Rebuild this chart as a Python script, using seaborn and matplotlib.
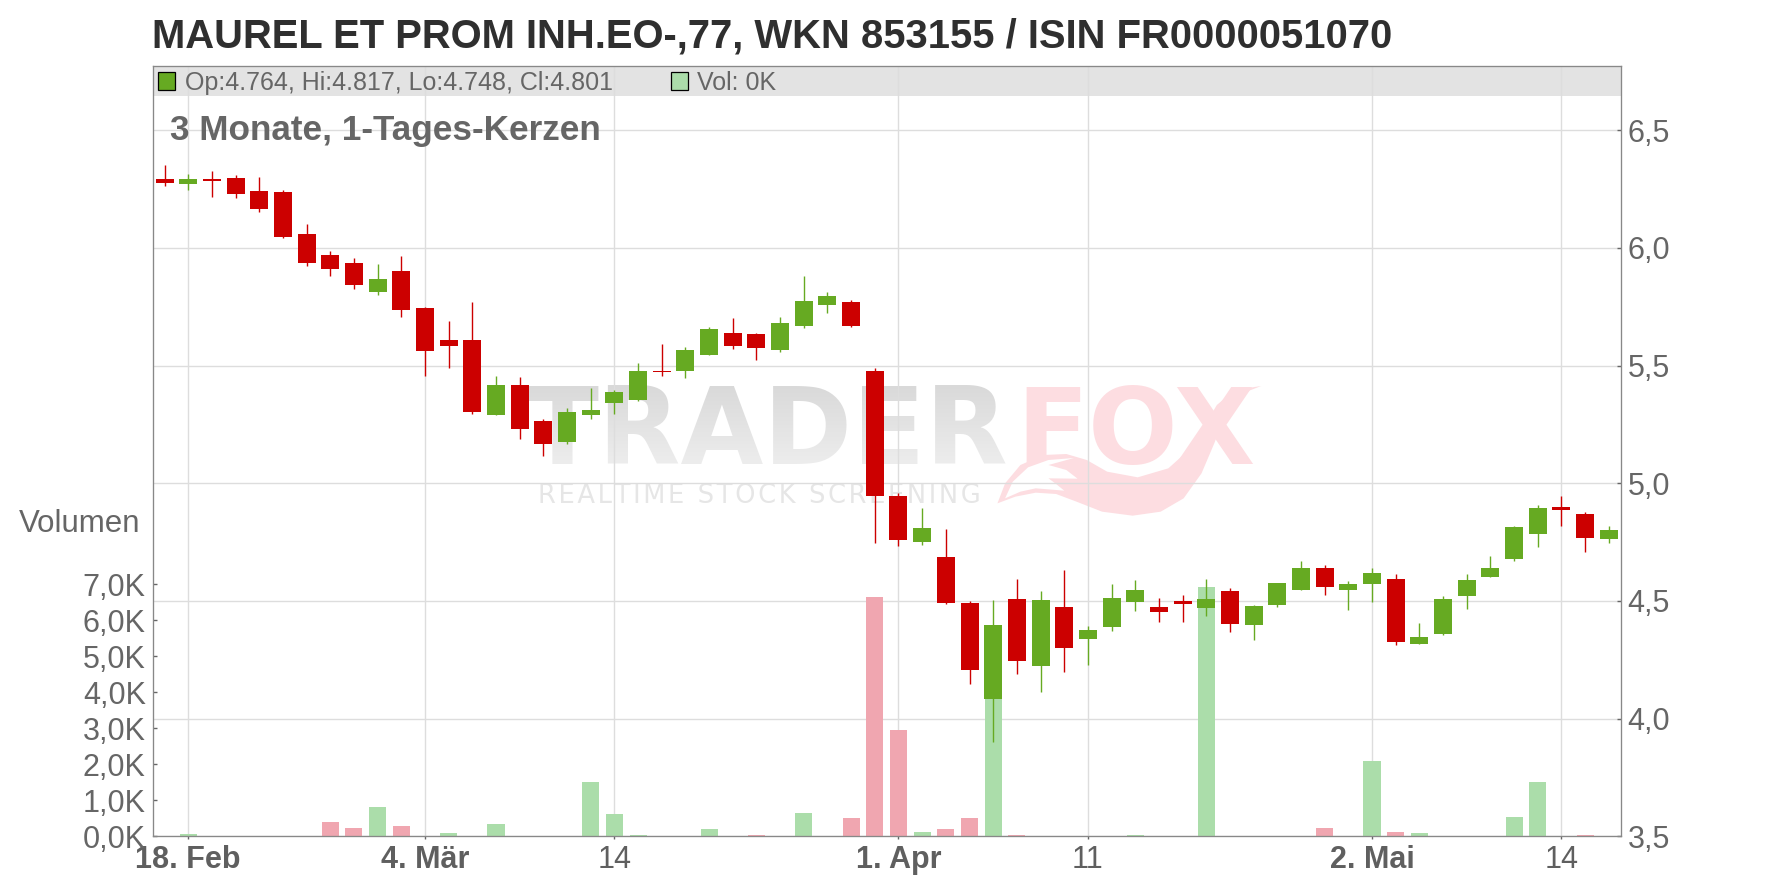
import numpy as np
import pandas as pd
import matplotlib
matplotlib.use("Agg")
import matplotlib.pyplot as plt
from matplotlib.patches import PathPatch, Rectangle
from matplotlib.path import Path
from matplotlib.transforms import Affine2D
import seaborn as sns

# one candle per trading day, index 0 is 18. Feb
open_ = [6.293, 6.272, 6.293, 6.297, 6.242, 6.238, 6.059, 5.970, 5.936, 5.813, 5.903,
         5.745, 5.608, 5.608, 5.292, 5.416, 5.266, 5.177, 5.292, 5.343, 5.356,
         5.476, 5.476, 5.544, 5.638, 5.634, 5.566, 5.668, 5.758, 5.771, 5.476,
         4.946, 4.749, 4.685, 4.493, 4.083, 4.510, 4.224, 4.476, 4.339, 4.390,
         4.497, 4.476, 4.501, 4.472, 4.544, 4.399, 4.484, 4.548, 4.642, 4.548,
         4.570, 4.595, 4.318, 4.360, 4.523, 4.600, 4.677, 4.783, 4.899, 4.869, 4.764]
high = [6.353, 6.314, 6.327, 6.310, 6.302, 6.246, 6.102, 5.987, 5.958, 5.932, 5.967,
        5.749, 5.689, 5.771, 5.454, 5.450, 5.275, 5.318, 5.403, 5.395, 5.510,
        5.591, 5.578, 5.664, 5.702, 5.638, 5.707, 5.882, 5.813, 5.779, 5.489,
        4.959, 4.895, 4.805, 4.501, 4.506, 4.595, 4.544, 4.630, 4.395, 4.570,
        4.587, 4.514, 4.527, 4.595, 4.553, 4.484, 4.578, 4.668, 4.651, 4.583,
        4.642, 4.613, 4.407, 4.519, 4.613, 4.689, 4.818, 4.907, 4.946, 4.877, 4.817]
low = [6.263, 6.246, 6.217, 6.212, 6.153, 6.043, 5.924, 5.881, 5.826, 5.800, 5.708,
       5.454, 5.489, 5.296, 5.292, 5.189, 5.117, 5.168, 5.275, 5.296, 5.348,
       5.454, 5.446, 5.544, 5.570, 5.523, 5.557, 5.660, 5.724, 5.664, 4.745,
       4.732, 4.736, 4.489, 4.147, 3.899, 4.189, 4.113, 4.198, 4.228, 4.373,
       4.459, 4.412, 4.412, 4.437, 4.369, 4.335, 4.476, 4.548, 4.527, 4.463,
       4.497, 4.313, 4.318, 4.356, 4.467, 4.600, 4.668, 4.728, 4.818, 4.707, 4.748]
close = [6.276, 6.293, 6.285, 6.229, 6.166, 6.047, 5.936, 5.911, 5.843, 5.868, 5.736,
         5.561, 5.583, 5.301, 5.416, 5.232, 5.168, 5.305, 5.313, 5.386, 5.476,
         5.471, 5.566, 5.655, 5.583, 5.574, 5.681, 5.775, 5.796, 5.668, 4.947,
         4.758, 4.809, 4.493, 4.207, 4.399, 4.245, 4.506, 4.301, 4.377, 4.514,
         4.548, 4.454, 4.489, 4.510, 4.403, 4.480, 4.578, 4.642, 4.561, 4.574,
         4.617, 4.326, 4.348, 4.510, 4.591, 4.638, 4.813, 4.895, 4.886, 4.766, 4.801]
days = np.arange(-1, 61)

vol_up_days = [0, 8, 11, 13, 17, 18, 19, 22, 26, 31, 34, 40, 43, 50, 52, 56, 57]
vol_up = [0.065, 0.81, 0.09, 0.34, 1.51, 0.62, 0.035, 0.20, 0.65, 0.12, 4.2, 0.035, 6.93, 2.09, 0.09, 0.54, 1.51]
vol_down_days = [6, 7, 9, 24, 28, 29, 30, 32, 33, 35, 48, 51, 59]
vol_down = [0.40, 0.23, 0.29, 0.035, 0.51, 6.65, 2.95, 0.20, 0.51, 0.035, 0.23, 0.12, 0.035]

price_ticks = [3.5, 4.0, 4.5, 5.0, 5.5, 6.0, 6.5]
price_labels = ["3,5", "4,0", "4,5", "5,0", "5,5", "6,0", "6,5"]
vol_ticks = [0, 1, 2, 3, 4, 5, 6, 7]
vol_labels = ["0,0K", "1,0K", "2,0K", "3,0K", "4,0K", "5,0K", "6,0K", "7,0K"]
date_ticks = [0, 10, 18, 30, 38, 50, 58]
date_labels = ["18. Feb", "4. Mär", "14", "1. Apr", "11", "2. Mai", "14"]
date_bold = [True, True, False, True, False, True, False]

title = "MAUREL ET PROM INH.EO-,77, WKN 853155 / ISIN FR0000051070"

GREEN = "#66AA22"
RED = "#CC0000"
GREEN_VOL = "#ABDDAA"
RED_VOL = "#F0A6B0"
GRID = "#DDDDDD"
TEXT = "#666666"
W, H = 1776, 888

sns.set_theme(style="white")
plt.rcParams["font.family"] = ["Liberation Sans", "DejaVu Sans"]

df = pd.DataFrame({"day": days, "open": open_, "high": high, "low": low, "close": close})
df["bottom"] = df[["open", "close"]].min(axis=1)
df["body"] = (df["close"] - df["open"]).abs()
df["up"] = df["close"] > df["open"]

fig = plt.figure(figsize=(W / 100, H / 100), dpi=100, facecolor="white")
# pixel coordinates of the picture, y going down
px = Affine2D().scale(1 / W, -1 / H).translate(0, 1) + fig.transFigure

rect = [152.7 / W, 1 - 836.3 / H, (1620.6 - 152.7) / W, (836.3 - 65.7) / H]
ax_grid = fig.add_axes(rect, zorder=1)
ax_vol = fig.add_axes(rect, zorder=2)
ax = fig.add_axes(rect, zorder=3)

xlim = (-1.5, 60.5)
ylim = (3.5, 6.7745)

# grid + price axis
ax_grid.axhspan(6.7745 - 30.3 / 235.33, 6.7745, color="#E3E3E3", zorder=0, lw=0)
ax_grid.set_yticks(price_ticks)
ax_grid.set_yticklabels(price_labels)
ax_grid.set_xticks(date_ticks)
ax_grid.set_xticklabels(date_labels)
ax_grid.grid(True, color=GRID, lw=1.0)
ax_grid.set_axisbelow(False)
ax_grid.yaxis.tick_right()
ax_grid.tick_params(axis="y", direction="in", length=3, width=1, color="#666666", labelsize=22, labelcolor=TEXT, pad=5, right=True)
ax_grid.tick_params(axis="x", direction="out", length=2.5, width=1, color="#666666", labelsize=22, labelcolor="#5f5f5f", pad=4, bottom=True)
for lab, b in zip(ax_grid.get_xticklabels(), date_bold):
    if b:
        lab.set_fontweight("bold")

# watermark
ax_grid.text(525, 464, "TRADER", transform=px, family="DejaVu Sans", weight="bold", fontsize=77,
             color="#D9D9D9", va="baseline", ha="left", zorder=1)
ax_grid.text(1016, 464, "FOX", transform=px, family="DejaVu Sans", weight="bold", fontsize=76,
             color="#FDDDE1", va="baseline", ha="left", zorder=1)
# fades the gray letters towards the bottom
fade = np.ones((64, 2, 4))
fade[:, :, 3] = np.linspace(0, 0.55, 64)[:, None]
ax_grid.imshow(fade, extent=(520, 1012, 468, 384), transform=px, aspect="auto", zorder=1.05)
ax_grid.text(538, 503, "\u200a".join("REALTIME STOCK SCREENING"), transform=px, fontsize=18.5,
             color="#E6E6E6", va="baseline", ha="left", zorder=1, family=["DejaVu Sans"])


def zoomed(pts):
    return [(500 + x / 1.96, 370 + y / 3) for x, y in pts]


tail = zoomed([(975, 400), (990, 340), (1020, 285), (1065, 255), (1110, 252), (1150, 270), (1190, 305),
               (1250, 322), (1310, 295), (1350, 240), (1380, 170), (1405, 105), (1440, 60), (1492, 48),
               (1455, 70), (1430, 110), (1415, 160), (1400, 220), (1375, 310), (1340, 385), (1295, 425),
               (1240, 437), (1180, 425), (1130, 395), (1090, 372), (1050, 368), (1010, 380), (975, 400)])
hole = zoomed([(990, 385), (1005, 335), (1035, 292), (1075, 270), (1125, 264), (1075, 285), (1110, 300),
               (1132, 326), (1075, 325), (1090, 342), (1106, 362), (1050, 355), (1020, 365), (990, 385)])
ax_grid.add_patch(PathPatch(Path(tail), fc="#FDDDE1", ec="none", transform=px, zorder=1))
ax_grid.add_patch(PathPatch(Path(hole), fc="white", ec="none", transform=px, zorder=1.1))
ax_grid.set_xlim(xlim)
ax_grid.set_ylim(ylim)

# volume
sns.barplot(x=vol_up_days, y=vol_up, color=GREEN_VOL, saturation=1, native_scale=True, width=0.72,
            errorbar=None, linewidth=0, ax=ax_vol)
sns.barplot(x=vol_down_days, y=vol_down, color=RED_VOL, saturation=1, native_scale=True, width=0.72,
            errorbar=None, linewidth=0, ax=ax_vol)
ax_vol.patch.set_visible(False)
ax_vol.set_xlim(xlim)
ax_vol.set_ylim(0, 770.6 / 36)
ax_vol.set_xticks([])
ax_vol.set_yticks(vol_ticks)
ax_vol.set_yticklabels(vol_labels)
ax_vol.set_xlabel("")
ax_vol.set_ylabel("")
ax_vol.tick_params(axis="y", direction="in", length=3, width=1, color="#666666", labelsize=22, labelcolor=TEXT, pad=5, left=True)

# candles
up = df[df["up"]]
down = df[~df["up"]]
ax.vlines(up["day"], up["low"], up["high"], color=GREEN, lw=1.0)
ax.vlines(down["day"], down["low"], down["high"], color=RED, lw=1.0)
sns.barplot(x=up["day"].values, y=up["body"].values, bottom=up["bottom"].values, color=GREEN, saturation=1,
            native_scale=True, width=0.76, errorbar=None, linewidth=0, ax=ax)
sns.barplot(x=down["day"].values, y=down["body"].values, bottom=down["bottom"].values, color=RED, saturation=1,
            native_scale=True, width=0.76, errorbar=None, linewidth=0, ax=ax)
ax.patch.set_visible(False)
ax.set_xlim(xlim)
ax.set_ylim(ylim)
ax.set_xticks([])
ax.set_yticks([])
ax.set_xlabel("")
ax.set_ylabel("")

for a in [ax_grid, ax_vol]:
    for s in a.spines.values():
        s.set_visible(False)
for s in ax.spines.values():
    s.set_color("#888888")
    s.set_linewidth(0.95)

# texts outside / on top of the plot
fig.text(152, 47, title, transform=px, fontsize=28.8, weight="bold", color="#2F2F2F", va="baseline", ha="left")
fig.text(170, 140, "3 Monate, 1-Tages-Kerzen", transform=px, fontsize=25.3, weight="bold", color=TEXT, va="baseline", ha="left", zorder=5)
fig.text(185, 90, "Op:4.764, Hi:4.817, Lo:4.748, Cl:4.801", transform=px, fontsize=18, color=TEXT, va="baseline", ha="left", zorder=5)
fig.text(696.5, 90, "Vol: 0K", transform=px, fontsize=18, color=TEXT, va="baseline", ha="left", zorder=5)
fig.text(19, 532, "Volumen", transform=px, fontsize=22.5, color=TEXT, va="baseline", ha="left")
fig.add_artist(Rectangle((158, 90.5), 17, -18, transform=px, fc=GREEN, ec="black", lw=0.9, zorder=5))
fig.add_artist(Rectangle((671, 90.5), 17, -18, transform=px, fc=GREEN_VOL, ec="black", lw=0.9, zorder=5))

fig.savefig("out.png", dpi=100)
